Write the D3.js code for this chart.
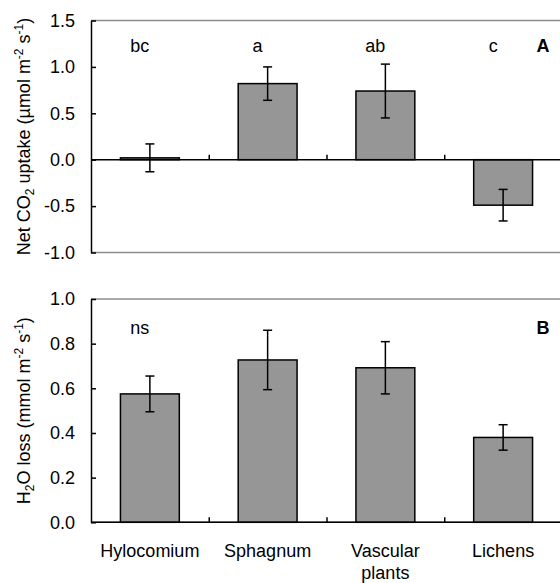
<!DOCTYPE html>
<html>
<head>
<meta charset="utf-8">
<script src="https://cdn.jsdelivr.net/npm/d3@7"></script>
<style>
	body { margin: 0; background: white; }
	text { font-family: "Liberation Sans", Arial, sans-serif; fill: black; }
</style>
</head>
<body>
<div id="chart"></div>
<script>
//******************************************************************//
// Data

var categories = ["Hylocomium", "Sphagnum", "Vascular\nplants", "Lichens"];

// Panel A: net CO2 uptake
var co2Mean = [0.02, 0.82, 0.74, -0.49];
var co2Err = [0.15, 0.18, 0.29, 0.17];
var co2Letters = ["bc", "a", "ab", "c"];
var co2Ticks = [-1.0, -0.5, 0.0, 0.5, 1.0, 1.5];

// Panel B: H2O loss
var h2oMean = [0.575, 0.727, 0.692, 0.38];
var h2oErr = [0.08, 0.133, 0.117, 0.057];
var h2oLetters = ["ns", "", "", ""];
var h2oTicks = [0.0, 0.2, 0.4, 0.6, 0.8, 1.0];

//******************************************************************//
// Canvas

var width = 560, height = 583;
var fontSize = 18;
var barFill = "#969696";
var borderGrey = "#8c8c8c";

var canvas = d3.select("#chart").append("svg")
	.attr("width", width)
	.attr("height", height);

var plotLeft = 91, plotRight = 562;

var x = d3.scaleBand()
	.domain(categories)
	.range([plotLeft, plotRight])
	.paddingInner(0.5)
	.paddingOuter(0.25);

// scale for category boundary ticks
var xBound = d3.scaleLinear()
	.domain([0, categories.length])
	.range([plotLeft, plotRight]);

function drawPanel(opts){

	var y = d3.scaleLinear()
		.domain(opts.domain)
		.range([opts.bottom, opts.top]);

	var panel = canvas.append("g");

	// grey plot-area border (top and bottom)
	panel.append("line")
		.attr("x1", plotLeft).attr("x2", width)
		.attr("y1", y(opts.domain[1])).attr("y2", y(opts.domain[1]))
		.attr("stroke", borderGrey)
		.attr("stroke-width", 1.5);
	panel.append("line")
		.attr("x1", plotLeft).attr("x2", width)
		.attr("y1", y(opts.domain[0])).attr("y2", y(opts.domain[0]))
		.attr("stroke", borderGrey)
		.attr("stroke-width", 1.5);

	// bars
	panel.selectAll(".bar")
		.data(opts.means)
		.enter().append("rect")
		.attr("class", "bar")
		.attr("x", function(d, i){ return x(categories[i]); })
		.attr("width", x.bandwidth())
		.attr("y", function(d){ return y(Math.max(0, d)); })
		.attr("height", function(d){ return Math.abs(y(d) - y(0)); })
		.attr("fill", barFill)
		.attr("stroke", "black")
		.attr("stroke-width", 1.5);

	// error bars
	var capW = 4.5;
	var err = panel.selectAll(".err")
		.data(opts.means)
		.enter().append("g")
		.attr("class", "err")
		.attr("stroke", "black")
		.attr("stroke-width", 1.5);
	err.append("line")
		.attr("x1", function(d, i){ return x(categories[i]) + x.bandwidth()/2; })
		.attr("x2", function(d, i){ return x(categories[i]) + x.bandwidth()/2; })
		.attr("y1", function(d, i){ return y(d + opts.errs[i]); })
		.attr("y2", function(d, i){ return y(d - opts.errs[i]); });
	[1, -1].forEach(function(s){
		err.append("line")
			.attr("x1", function(d, i){ return x(categories[i]) + x.bandwidth()/2 - capW; })
			.attr("x2", function(d, i){ return x(categories[i]) + x.bandwidth()/2 + capW; })
			.attr("y1", function(d, i){ return y(d + s*opts.errs[i]); })
			.attr("y2", function(d, i){ return y(d + s*opts.errs[i]); });
	});

	// x axis at zero with upward boundary ticks
	var xAxis = d3.axisBottom(xBound)
		.tickValues(d3.range(1, categories.length))
		.tickSizeInner(-5)
		.tickSizeOuter(0)
		.tickFormat("");
	var xAxisGroup = panel.append("g")
		.attr("transform", "translate(0," + y(0) + ")")
		.call(xAxis);
	xAxisGroup.select(".domain")
		.attr("d", "M" + plotLeft + ",0H" + width)
		.attr("stroke-width", 1.5);
	xAxisGroup.selectAll(".tick line").attr("stroke-width", 1.5);

	// y axis, ticks pointing inward
	var yAxis = d3.axisLeft(y)
		.tickValues(opts.ticks)
		.tickSizeInner(-5)
		.tickSizeOuter(0)
		.tickPadding(16)
		.tickFormat(function(d){ return d.toFixed(1); });
	var yAxisGroup = panel.append("g")
		.attr("transform", "translate(" + plotLeft + ",0)")
		.call(yAxis);
	yAxisGroup.select(".domain").attr("stroke-width", 1.5);
	yAxisGroup.selectAll(".tick line").attr("stroke-width", 1.5);
	yAxisGroup.selectAll("text")
		.style("font-size", fontSize + "px")
		.style("font-family", "Liberation Sans, Arial, sans-serif")
		.attr("fill", "black");

	// significance letters
	panel.selectAll(".letter")
		.data(opts.letters)
		.enter().append("text")
		.attr("class", "letter")
		.attr("x", function(d, i){ return x(categories[i]) + x.bandwidth()/2 - 10; })
		.attr("y", opts.letterY)
		.attr("text-anchor", "middle")
		.style("font-size", fontSize + "px")
		.text(function(d){ return d; });

	// panel label
	panel.append("text")
		.attr("x", 543)
		.attr("y", opts.letterY)
		.attr("text-anchor", "middle")
		.style("font-size", fontSize + "px")
		.style("font-weight", "bold")
		.text(opts.panelLabel);

	// y title
	var title = panel.append("text")
		.attr("transform", "translate(30," + (opts.top + opts.bottom)/2 + ") rotate(-90)")
		.attr("text-anchor", "middle")
		.style("font-size", fontSize + "px");
	opts.title.forEach(function(part){
		var t = title.append("tspan").text(part.t);
		if(part.s == "sub") t.attr("dy", 4).style("font-size", "12px");
		else if(part.s == "sup") t.attr("dy", -7).style("font-size", "12px");
		if(part.back) t.attr("dy", part.back);
	});

	return y;
}

//******************************************************************//
// Panel A

drawPanel({
	domain : [-1.0, 1.5], top : 20.5, bottom : 252.5,
	means : co2Mean, errs : co2Err, letters : co2Letters, ticks : co2Ticks,
	letterY : 52, panelLabel : "A",
	title : [
		{t : "Net CO"}, {t : "2", s : "sub"}, {t : " uptake (\u00b5mol m", back : -4},
		{t : "-2", s : "sup"}, {t : " s", back : 7}, {t : "-1", s : "sup"}, {t : ")", back : 7}
	]
});

//******************************************************************//
// Panel B

drawPanel({
	domain : [0.0, 1.0], top : 299, bottom : 522.3,
	means : h2oMean, errs : h2oErr, letters : h2oLetters, ticks : h2oTicks,
	letterY : 334, panelLabel : "B",
	title : [
		{t : "H"}, {t : "2", s : "sub"}, {t : "O loss (mmol m", back : -4},
		{t : "-2", s : "sup"}, {t : " s", back : 7}, {t : "-1", s : "sup"}, {t : ")", back : 7}
	]
});

//******************************************************************//
// Category labels

var catLabels = canvas.selectAll(".cat")
	.data(categories)
	.enter().append("text")
	.attr("class", "cat")
	.attr("text-anchor", "middle")
	.attr("y", 556.5)
	.style("font-size", fontSize + "px");

catLabels.each(function(d){
	var el = d3.select(this);
	d.split("\n").forEach(function(line, j){
		el.append("tspan")
			.attr("x", x(d) + x.bandwidth()/2)
			.attr("dy", j == 0 ? 0 : 22)
			.text(line);
	});
});
</script>
</body>
</html>
